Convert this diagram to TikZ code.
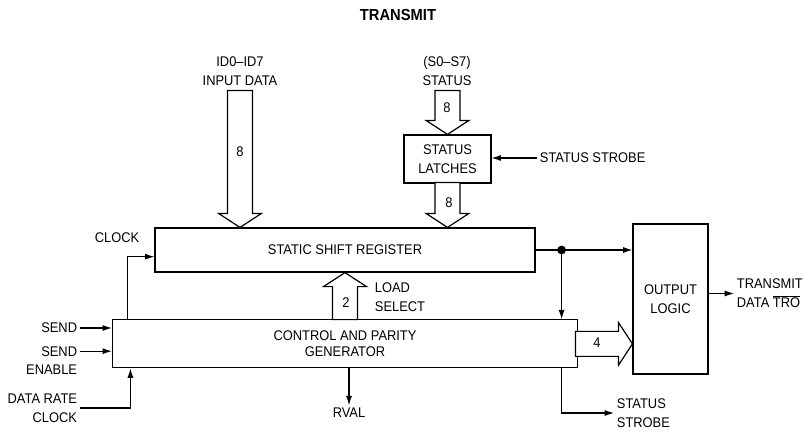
\documentclass[tikz,border=0pt]{standalone}
\usepackage{fontspec}
\setmainfont{Liberation Sans}[FakeStretch=0.92]
\usetikzlibrary{arrows.meta,positioning}

\begin{document}
\begin{tikzpicture}[
  x=0.75pt,y=-0.75pt,
  font=\fontsize{10.5}{14}\selectfont,
  block/.style={draw,line width=0.9pt,inner sep=0pt,align=center},
  lbl/.style={inner sep=2pt,align=center},
  sig/.style={-{Latex[length=7pt,width=4.5pt]},line width=0.8pt},
  busline/.style={draw,line width=0.9pt,fill=white},
  pics/bus/.style={code={\path[busline] (0,0) -- (-21.5,-14) -- (-12.5,-14) -- (-12.5,-#1) -- (12.5,-#1) -- (12.5,-14) -- (21.5,-14) -- cycle;}},
  node distance=35pt and 20pt
]
\useasboundingbox (0,0) rectangle (806,432);
\node[font=\fontsize{12}{14}\selectfont\bfseries] (title) at (398,15) {TRANSMIT};
\node[block,minimum width=285pt,minimum height=33pt] (reg) at (345,250) {STATIC SHIFT REGISTER};
\node[block,minimum width=348.75pt,minimum height=36pt,font=\fontsize{10.5}{12}\selectfont,below=of reg] (ctrl) {CONTROL AND PARITY\\GENERATOR};
\node[block,minimum width=65.25pt,minimum height=36pt] (latch) at (447.5,159) {STATUS\\LATCHES};
\node[block,minimum width=56.25pt,minimum height=112.5pt] (outl) at (670.5,299) {OUTPUT\\LOGIC};
% inputs on top
\node[lbl] (indata) at (240,71) {ID0--ID7\\INPUT DATA};
\node[lbl] (stat) at (447,71) {(S0--S7)\\STATUS};
\node[lbl,anchor=west] (ssi) at (537,158) {STATUS STROBE};
\node[lbl] (clk) at (117,238) {CLOCK};
% inputs on the left
\node[lbl,anchor=east,align=right] (send) at (80,328) {SEND};
\node[lbl,anchor=east,align=right] (sen) at (80,360.5) {SEND\\ENABLE};
\node[lbl,anchor=east,align=right] (drc) at (80,408) {DATA RATE\\CLOCK};
% outputs
\node[lbl] (rval) at (349,413) {RVAL};
\node[lbl,anchor=west,align=left] (sso) at (614,413) {STATUS\\STROBE};
\node[lbl,anchor=west,align=left] (tx) at (734,293.5) {TRANSMIT\\DATA $\overline{\mbox{TRO}}$};
\node[lbl,anchor=west,align=left] (lsel) at (372,297.5) {LOAD\\SELECT};
\coordinate (tap) at ([xshift=19.5pt]reg.east);

% buses
\pic at (reg.north -| indata) {bus=137};
\pic at (latch.north) {bus=44};
\pic at (reg.north -| latch) {bus=45};
\pic[rotate=180] at (reg.south) {bus=47};
\pic[rotate=90] at (outl.west |- ctrl.east) {bus=57};
\node (n8a) at (240,152) {8};
\node (n8b) at (447,108) {8};
\node (n8c) at (449,203) {8};
\node (n2) at (346,303) {2};
\node (n4) at (597,343) {4};

% signals
\draw[sig] (ssi.west) -- (ssi.west -| latch.east);
\draw[sig] ([xshift=11.6pt]ctrl.north west) |- ([yshift=-5pt]reg.west);
\draw[sig] (send.east) -- (send.east -| ctrl.west);
\draw[sig] ([yshift=7pt]sen.east) -- ([yshift=7pt]sen.east -| ctrl.west);
\draw[sig] (drc.east) -| ([xshift=13.9pt]ctrl.south west);
\draw[sig] (ctrl.south -| rval) -- (rval);
\draw[sig] (reg.east) -- (reg.east -| outl.west);
\fill (tap) circle (3.3pt);
\draw[sig] (tap) -- (tap |- ctrl.north);
\draw[sig] (tap |- ctrl.south) |- (sso.west);
\draw[sig] (outl.east |- tx.west) -- (tx.west);
\end{tikzpicture}
\end{document}
